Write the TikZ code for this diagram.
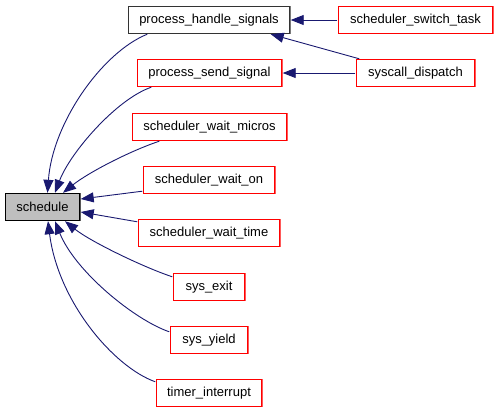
\documentclass[tikz,border=0pt]{standalone}
\usepackage{fontspec}
\setmainfont{Liberation Sans}
\usetikzlibrary{arrows.meta}
\definecolor{edgeblue}{HTML}{191970}
\definecolor{boxgray}{HTML}{BFBFBF}
\definecolor{boxred}{HTML}{FF0000}

\begin{document}
\begin{tikzpicture}[x=1pt,y=-1pt,
  framed/.style 2 args={fill=white,path picture={
    \fill[#1] (path picture bounding box.south west) rectangle (path picture bounding box.north east);
    \fill[#2] ([xshift=1.2pt,yshift=1.2pt]path picture bounding box.south west)
      rectangle ([xshift=-1.2pt,yshift=-1.2pt]path picture bounding box.north east);}},
  box/.style={minimum height=28pt,inner sep=0pt,font=\fontsize{13}{15}\selectfont},
  fn/.style={box,framed={boxred}{white}},
  root/.style={box,framed={black}{boxgray}},
  known/.style={box,framed={black!80}{white}},
  call/.style={draw=edgeblue,line width=0.9pt,-{Triangle[length=13pt,width=10pt]}}
]
\useasboundingbox (0,0) rectangle (499,413);

% Called function
\node[root,minimum width=76pt] (schedule) at (42.5,207) {schedule};

% Callers
\node[known,minimum width=163pt] (phs) at (209,20) {process\_handle\_signals};
\node[fn,minimum width=146pt] (pss) at (209.5,73) {process\_send\_signal};
\node[fn,minimum width=156pt] (swm) at (209.5,127) {scheduler\_wait\_micros};
\node[fn,minimum width=133pt] (swo) at (209,180) {scheduler\_wait\_on};
\node[fn,minimum width=143pt] (swt) at (209,233) {scheduler\_wait\_time};
\node[fn,minimum width=73pt] (sexit) at (209,287) {sys\_exit};
\node[fn,minimum width=79pt] (syield) at (209,340) {sys\_yield};
\node[fn,minimum width=107pt] (tirq) at (209,393) {timer\_interrupt};

% Callers of callers
\node[fn,minimum width=156pt] (sst) at (415.5,20) {scheduler\_switch\_task};
\node[fn,minimum width=120pt] (sd) at (415.5,73) {syscall\_dispatch};

% Edges into schedule
\draw[call] ([xshift=20pt]phs.south west) .. controls +(-45,18) and +(5,-70) .. ([xshift=5pt]schedule.north);
\draw[call] ([xshift=15pt]pss.south west) .. controls +(-35,12) and +(15,-40) .. ([xshift=12.5pt]schedule.north);
\draw[call] ([xshift=28pt]swm.south west) .. controls +(-30,10) and +(25,-20) .. ([xshift=20.5pt]schedule.north);
\draw[call] ([yshift=3pt]swo.south west) -- ([yshift=8pt]schedule.east);
\draw[call] ([yshift=-3pt]swt.north west) -- ([yshift=-5pt]schedule.east);
\draw[call] ([yshift=-4pt]sexit.north west) .. controls +(-30,-10) and +(25,20) .. ([xshift=22.5pt]schedule.south);
\draw[call] ([yshift=-6pt]syield.north west) .. controls +(-35,-12) and +(20,50) .. ([xshift=12.5pt]schedule.south);
\draw[call] ([yshift=-3pt]tirq.north west) .. controls +(-42,-15) and +(10,80) .. ([xshift=5.5pt]schedule.south);

% Edges between callers
\draw[call] (sst.west) -- (phs.east);
\draw[call] ([xshift=4pt]sd.north west) -- ([xshift=-20pt]phs.south east);
\draw[call] (sd.west) -- (pss.east);

\end{tikzpicture}
\end{document}
